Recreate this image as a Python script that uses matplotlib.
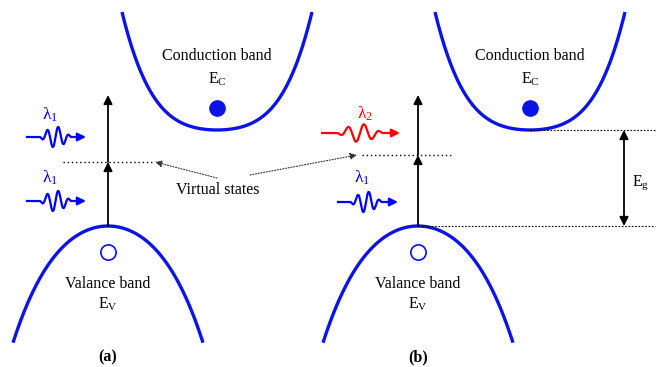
import numpy as np
import matplotlib.pyplot as plt

plt.rcParams['font.family'] = ['Liberation Serif', 'DejaVu Serif']
plt.rcParams['mathtext.fontset'] = 'custom'
plt.rcParams['mathtext.rm'] = 'Liberation Serif'
plt.rcParams['mathtext.it'] = 'Liberation Serif:italic'

# band layout (pixel units, y grows downward)
panel_labels = ['(a)', '(b)']
cond_center = [217, 530]
val_center = [108, 418]
cond_bottom = 130
val_top = 226
band_halfwidth = 95
virtual_level = [162, 155]
arrow_top = 95

# photons: (x start, packet centre, x end, y centre, label, label x, label y, colour, wavelength)
photons = [
    (27, 55.5, 86, 137, r'$\mathregular{\lambda_1}$', 50, 115, 'blue', 11),
    (27, 55.5, 86, 201, r'$\mathregular{\lambda_1}$', 50, 178, 'blue', 11),
    (322, 360, 400, 133, r'$\mathregular{\lambda_2}$', 365, 114, 'red', 16),
    (338, 366, 398, 202, r'$\mathregular{\lambda_1}$', 362, 178, 'blue', 11),
]

BLUE = '#0a14e6'


def cond_shape(dx):
    # flat-bottomed conduction band
    return 0.0045 * dx**2 + 9.5e-7 * dx**4


def val_shape(dx):
    return 0.0095 * dx**2 + 3.8e-7 * dx**4


fig = plt.figure(figsize=(6.59, 3.67), dpi=100)
ax = fig.add_axes([0, 0, 1, 1])
ax.set_xlim(0, 659)
ax.set_ylim(367, 0)
ax.axis('off')

fs = 11.5
dx = np.linspace(-band_halfwidth, band_halfwidth, 300)

for i in range(2):
    # conduction band
    xc = cond_center[i]
    ax.plot(xc + dx, cond_bottom - cond_shape(dx), color=BLUE, lw=2.4, solid_capstyle='butt')
    ax.plot(xc, cond_bottom - 22, 'o', ms=11, color=BLUE)
    ax.text(xc, 56, 'Conduction band', ha='center', va='center', fontsize=fs)
    ax.text(xc, 79, r'$\mathregular{E_C}$', ha='center', va='center', fontsize=fs)

    # valence band
    xv = val_center[i]
    ax.plot(xv + dx, val_top + val_shape(dx), color=BLUE, lw=2.4, solid_capstyle='butt')
    ax.plot(xv, val_top + 26, 'o', ms=11, mfc='none', mec=BLUE, mew=1.2)
    ax.text(xv, 284, 'Valance band', ha='center', va='center', fontsize=fs)
    ax.text(xv, 304, r'$\mathregular{E_V}$', ha='center', va='center', fontsize=fs)
    ax.text(xv, 357, panel_labels[i], ha='center', va='center', fontsize=fs, fontweight='bold')

    # two-step transition through the virtual state
    yv = virtual_level[i]
    ax.annotate('', xy=(xv, yv), xytext=(xv, val_top),
                arrowprops=dict(arrowstyle='-|>', color='black', lw=1.3, mutation_scale=13, shrinkA=0, shrinkB=0))
    ax.annotate('', xy=(xv, arrow_top), xytext=(xv, yv),
                arrowprops=dict(arrowstyle='-|>', color='black', lw=1.3, mutation_scale=13, shrinkA=0, shrinkB=0))

# virtual state levels
ax.plot([63, 152], [virtual_level[0]] * 2, color='black', lw=1, ls=(0, (1, 2)))
ax.plot([362, 452], [virtual_level[1]] * 2, color='black', lw=1, ls=(0, (1, 2)))
ax.text(218, 190, 'Virtual states', ha='center', va='center', fontsize=fs)
ax.annotate('', xy=(155, virtual_level[0]), xytext=(217, 178),
            arrowprops=dict(arrowstyle='-|>', color='#333333', lw=0.8, ls=(0, (1, 1.5)), mutation_scale=10, shrinkA=0, shrinkB=0))
ax.annotate('', xy=(357, virtual_level[1]), xytext=(250, 175),
            arrowprops=dict(arrowstyle='-|>', color='#333333', lw=0.8, ls=(0, (1, 1.5)), mutation_scale=10, shrinkA=0, shrinkB=0))

# photon wave packets: half-cosine envelope, two full swings
for x0, c, x1, yc, lab, lx, ly, col, wl in photons:
    x = np.linspace(x0, x1 - 8, 400)
    hw = 1.4 * wl
    amp = 10.5 if col == 'blue' else 9
    env = np.where(np.abs(x - c) < hw, np.cos(np.pi * (x - c) / (2 * hw)), 0.0)
    y = yc - amp * env * np.sin(2 * np.pi * (x - c) / wl)
    ax.plot(x, y, color=col, lw=1.6)
    ax.annotate('', xy=(x1, yc), xytext=(x1 - 9, yc),
                arrowprops=dict(arrowstyle='-|>', color=col, lw=1.6, mutation_scale=12, shrinkA=0, shrinkB=0))
    ax.text(lx, ly, lab, color=col, ha='center', va='center', fontsize=fs + 1)

# band gap marker
ax.plot([cond_center[1], 655], [cond_bottom] * 2, color='black', lw=0.8, ls=(0, (1.5, 1.5)))
ax.plot([val_center[1], 655], [val_top] * 2, color='black', lw=0.8, ls=(0, (1.5, 1.5)))
ax.annotate('', xy=(624, cond_bottom), xytext=(624, val_top),
            arrowprops=dict(arrowstyle='<|-|>', color='black', lw=1.3, mutation_scale=13, shrinkA=0, shrinkB=0))
ax.text(641, 183, r'$\mathregular{E_g}$', ha='center', va='center', fontsize=fs)

fig.savefig('out.png', dpi=100)
